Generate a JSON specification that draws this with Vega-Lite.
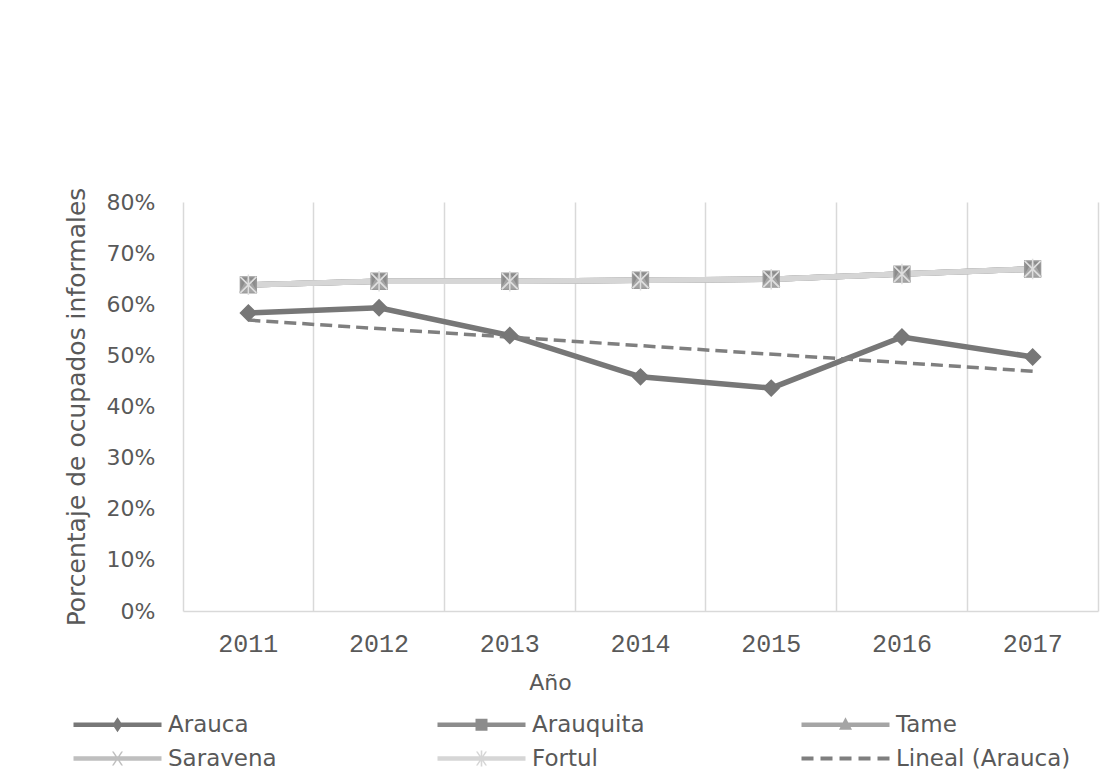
{
  "$schema": "https://vega.github.io/schema/vega-lite/v6.json",
  "autosize": {"type": "none"},
  "width": 915,
  "height": 409,
  "padding": {"left": 183, "top": 202, "right": 22, "bottom": 160},
  "background": "white",
  "config": {"view": {"stroke": null}, "font": "DejaVu Sans"},
  "data": {"values": [
    {"year": "2011", "serie": "Arauca", "value": 0.583},
    {"year": "2012", "serie": "Arauca", "value": 0.593},
    {"year": "2013", "serie": "Arauca", "value": 0.539},
    {"year": "2014", "serie": "Arauca", "value": 0.458},
    {"year": "2015", "serie": "Arauca", "value": 0.436},
    {"year": "2016", "serie": "Arauca", "value": 0.536},
    {"year": "2017", "serie": "Arauca", "value": 0.497},
    {"year": "2011", "serie": "Arauquita", "value": 0.638},
    {"year": "2012", "serie": "Arauquita", "value": 0.645},
    {"year": "2013", "serie": "Arauquita", "value": 0.645},
    {"year": "2014", "serie": "Arauquita", "value": 0.647},
    {"year": "2015", "serie": "Arauquita", "value": 0.649},
    {"year": "2016", "serie": "Arauquita", "value": 0.659},
    {"year": "2017", "serie": "Arauquita", "value": 0.669},
    {"year": "2011", "serie": "Tame", "value": 0.638},
    {"year": "2012", "serie": "Tame", "value": 0.645},
    {"year": "2013", "serie": "Tame", "value": 0.645},
    {"year": "2014", "serie": "Tame", "value": 0.647},
    {"year": "2015", "serie": "Tame", "value": 0.649},
    {"year": "2016", "serie": "Tame", "value": 0.659},
    {"year": "2017", "serie": "Tame", "value": 0.669},
    {"year": "2011", "serie": "Saravena", "value": 0.638},
    {"year": "2012", "serie": "Saravena", "value": 0.645},
    {"year": "2013", "serie": "Saravena", "value": 0.645},
    {"year": "2014", "serie": "Saravena", "value": 0.647},
    {"year": "2015", "serie": "Saravena", "value": 0.649},
    {"year": "2016", "serie": "Saravena", "value": 0.659},
    {"year": "2017", "serie": "Saravena", "value": 0.669},
    {"year": "2011", "serie": "Fortul", "value": 0.638},
    {"year": "2012", "serie": "Fortul", "value": 0.645},
    {"year": "2013", "serie": "Fortul", "value": 0.645},
    {"year": "2014", "serie": "Fortul", "value": 0.647},
    {"year": "2015", "serie": "Fortul", "value": 0.649},
    {"year": "2016", "serie": "Fortul", "value": 0.659},
    {"year": "2017", "serie": "Fortul", "value": 0.669},
    {"year": "2011", "serie": "Lineal (Arauca)", "value": 0.569},
    {"year": "2017", "serie": "Lineal (Arauca)", "value": 0.469}
  ]},
  "encoding": {
    "x": {
      "field": "year", "type": "ordinal",
      "scale": {"type": "band", "paddingInner": 0, "paddingOuter": 0},
      "axis": {
        "title": "Año", "bandPosition": 0, "labelAngle": 0,
        "ticks": false, "grid": true, "gridColor": "#d9d9d9", "gridWidth": 1.5,
        "domainColor": "#d9d9d9", "domainWidth": 1.5,
        "labelFont": "Liberation Mono", "labelFontSize": 25, "labelColor": "#595959", "labelPadding": 20,
        "titleFont": "DejaVu Sans", "titleFontSize": 22, "titleFontWeight": "normal", "titleColor": "#595959",
        "titlePadding": 16, "titleX": 367
      }
    }
  },
  "layer": [
    {
      "transform": [{"filter": "datum.serie !== 'Lineal (Arauca)'"}],
      "mark": {"type": "line", "strokeWidth": 5.5},
      "encoding": {
        "y": {
          "field": "value", "type": "quantitative",
          "scale": {"domain": [0, 0.8], "nice": false},
          "axis": {
            "title": "Porcentaje de ocupados informales", "format": ".0%",
            "values": [0, 0.1, 0.2, 0.3, 0.4, 0.5, 0.6, 0.7, 0.8],
            "grid": false, "domain": false, "ticks": false,
            "labelFont": "DejaVu Sans", "labelFontSize": 22, "labelColor": "#595959", "labelPadding": 28,
            "titleFont": "DejaVu Sans", "titleFontSize": 25, "titleFontWeight": "normal", "titleColor": "#595959",
            "titlePadding": 17
          }
        },
        "color": {
          "field": "serie", "type": "nominal",
          "scale": {"domain": ["Arauca", "Arauquita", "Tame", "Saravena", "Fortul", "Lineal (Arauca)"], "range": ["#777777", "#8c8c8c", "#a5a5a5", "#bfbfbf", "#d6d6d6", "#7f7f7f"]},
          "legend": null
        }
      }
    },
    {
      "transform": [{"filter": "datum.serie === 'Lineal (Arauca)'"}],
      "mark": {"type": "line", "strokeWidth": 3.5, "strokeDash": [12, 6]},
      "encoding": {
        "y": {"field": "value", "type": "quantitative", "axis": null},
        "color": {
          "field": "serie", "type": "nominal",
          "scale": {"domain": ["Arauca", "Arauquita", "Tame", "Saravena", "Fortul", "Lineal (Arauca)"], "range": ["#777777", "#8c8c8c", "#a5a5a5", "#bfbfbf", "#d6d6d6", "#7f7f7f"]},
          "legend": null
        }
      }
    },
    {
      "transform": [{"filter": "datum.serie !== 'Lineal (Arauca)'"}],
      "mark": {"type": "point", "filled": true, "size": 250, "strokeWidth": 1.5, "opacity": 1},
      "encoding": {
        "y": {"field": "value", "type": "quantitative", "axis": null},
        "color": {
          "field": "serie", "type": "nominal",
          "scale": {"domain": ["Arauca", "Arauquita", "Tame", "Saravena", "Fortul", "Lineal (Arauca)"], "range": ["#777777", "#8c8c8c", "#a5a5a5", "#bfbfbf", "#d6d6d6", "#7f7f7f"]},
          "legend": null
        },
        "stroke": {
          "field": "serie", "type": "nominal",
          "scale": {"domain": ["Arauca", "Arauquita", "Tame", "Saravena", "Fortul"], "range": ["#777777", "#999999", "#a5a5a5", "#c8c8c8", "#dedede"]},
          "legend": null
        },
        "shape": {
          "field": "serie", "type": "nominal",
          "scale": {"domain": ["Arauca", "Arauquita", "Tame", "Saravena", "Fortul"], "range": ["diamond", "square", "triangle-up", "M-1,-1L1,1M-1,1L1,-1", "M-1,-1L1,1M-1,1L1,-1M0,-1.3L0,1.3"]},
          "legend": null
        }
      }
    },
    {
      "mark": {"type": "point", "filled": true, "opacity": 0, "size": 10},
      "encoding": {
        "y": {
          "field": "value", "type": "quantitative",
          "axis": {"orient": "right", "labels": false, "ticks": false, "grid": false, "domain": true, "domainColor": "#d9d9d9", "domainWidth": 1.5, "title": null}
        },
        "color": {
          "field": "serie", "type": "nominal",
          "scale": {"domain": ["Arauca", "Arauquita", "Tame", "Saravena", "Fortul", "Lineal (Arauca)"], "range": ["#777777", "#8c8c8c", "#a5a5a5", "#bfbfbf", "#d6d6d6", "#7f7f7f"]},
          "legend": {
            "title": null, "orient": "none", "legendX": -77, "legendY": 511,
            "direction": "horizontal", "columns": 3, "gridAlign": "all", "columnPadding": 94, "rowPadding": 10,
            "symbolSize": 400, "symbolStrokeWidth": 0, "symbolOpacity": 1,
            "labelFont": "DejaVu Sans", "labelFontSize": 23, "labelColor": "#595959", "labelOffset": 39, "labelLimit": 300, "padding": 0
          }
        },
        "shape": {
          "field": "serie", "type": "nominal",
          "scale": {
            "domain": ["Arauca", "Arauquita", "Tame", "Saravena", "Fortul", "Lineal (Arauca)"],
            "range": [
              "M-4.4,-0.23H4.4V0.23H-4.4Z M0,-0.75L0.5,0L0,0.75L-0.5,0Z",
              "M-4.4,-0.23H4.4V0.23H-4.4Z M-0.6,-0.6H0.6V0.6H-0.6Z",
              "M-4.4,-0.23H4.4V0.23H-4.4Z M0,-0.75L0.65,0.5H-0.65Z",
              "M-4.4,-0.23H4.4V0.23H-4.4Z M-0.55,-0.7L-0.38,-0.7L0.55,0.7L0.38,0.7Z M0.38,-0.7L0.55,-0.7L-0.38,0.7L-0.55,0.7Z",
              "M-4.4,-0.23H4.4V0.23H-4.4Z M-0.55,-0.7L-0.38,-0.7L0.55,0.7L0.38,0.7Z M0.38,-0.7L0.55,-0.7L-0.38,0.7L-0.55,0.7Z M-0.08,-0.8H0.08V0.8H-0.08Z",
              "M-4.4,-0.21H-3.2V0.21H-4.4Z M-2.5,-0.21H-1.3V0.21H-2.5Z M-0.6,-0.21H0.6V0.21H-0.6Z M1.3,-0.21H2.5V0.21H1.3Z M3.2,-0.21H4.4V0.21H3.2Z"
            ]
          },
          "legend": {
            "title": null, "orient": "none", "legendX": -77, "legendY": 511,
            "direction": "horizontal", "columns": 3, "gridAlign": "all", "columnPadding": 94, "rowPadding": 10,
            "symbolSize": 400, "symbolStrokeWidth": 0, "symbolOpacity": 1,
            "labelFont": "DejaVu Sans", "labelFontSize": 23, "labelColor": "#595959", "labelOffset": 39, "labelLimit": 300, "padding": 0
          }
        }
      }
    }
  ],
  "resolve": {"scale": {"shape": "independent", "color": "independent", "stroke": "independent"}, "axis": {"y": "independent"}}
}
